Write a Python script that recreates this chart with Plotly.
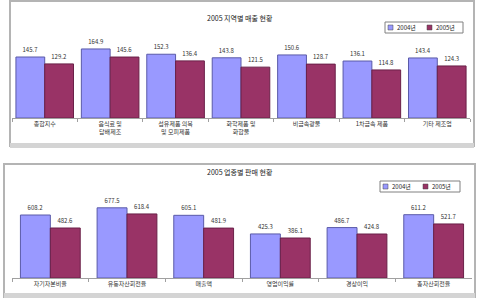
import plotly.graph_objects as go

# ---- data ----
top_title = "2005 지역별 매출 현황"
top_categories = ["종합지수", "음식료 및<br>담배제조", "섬유제품 의복<br>및 모피제품", "화학제품 및<br>화합물", "비금속광물", "1차금속 제품", "기타 제조업"]
top_2004 = [145.7, 164.9, 152.3, 143.8, 150.6, 136.1, 143.4]
top_2005 = [129.2, 145.6, 136.4, 121.5, 128.7, 114.8, 124.3]

bot_title = "2005 업종별 판매 현황"
bot_categories = ["자기자본비율", "유동자산회전율", "매출액", "영업이익률", "경상이익", "총자산회전율"]
bot_2004 = [608.2, 677.5, 605.1, 425.3, 486.7, 611.2]
bot_2005 = [482.6, 618.4, 481.9, 386.1, 424.8, 521.7]

series_names = ["2004년", "2005년"]

# ---- styling ----
W, H = 480, 301
FONT = "Noto Sans CJK KR"
BLUE = "#9999FF"
RED = "#993366"

def px(x):
    return x / W

def py(y):
    return 1 - y / H

fig = go.Figure()

def add_pair(cats, v1, v2, xa, ya, w):
    fig.add_trace(go.Bar(
        x=cats, y=v1, name=series_names[0], xaxis=xa, yaxis=ya, width=w, offset=-w,
        marker=dict(color=BLUE, line=dict(color="#5a5aa8", width=1)),
        text=[f"{v:.1f}" for v in v1], textposition="outside",
        textfont=dict(size=6, color="#333333", family=FONT), cliponaxis=False,
    ))
    fig.add_trace(go.Bar(
        x=cats, y=v2, name=series_names[1], xaxis=xa, yaxis=ya, width=w, offset=0,
        marker=dict(color=RED, line=dict(color="#6a2048", width=1)),
        text=[f"{v:.1f}" for v in v2], textposition="outside",
        textfont=dict(size=6, color="#333333", family=FONT), cliponaxis=False,
    ))

add_pair(top_categories, top_2004, top_2005, "x", "y", 0.44)
add_pair(bot_categories, bot_2004, bot_2005, "x2", "y2", 0.39)

top_scale = 145.7 / 61.0
bot_scale = 608.2 / 63.0

axis_common = dict(
    showgrid=False, zeroline=False, showline=True, linecolor="#a0a0a0", linewidth=1,
    ticks="outside", tickson="boundaries", ticklen=3, tickcolor="#a0a0a0",
    tickfont=dict(size=6, color="#333333", family=FONT), fixedrange=True,
)

shapes = [
    dict(type="rect", xref="paper", yref="paper", x0=px(10), x1=px(474), y0=py(146), y1=py(1),
         line=dict(color="#b4b4b4", width=2), layer="below"),
    dict(type="rect", xref="paper", yref="paper", x0=px(10), x1=px(474), y0=py(148), y1=py(143),
         line=dict(width=0), fillcolor="#d4d4d4", layer="below"),
    dict(type="rect", xref="paper", yref="paper", x0=px(4), x1=px(475), y0=py(297), y1=py(164),
         line=dict(color="#b4b4b4", width=2), layer="below"),
    dict(type="rect", xref="paper", yref="paper", x0=px(4), x1=px(475), y0=py(298), y1=py(293),
         line=dict(width=0), fillcolor="#d4d4d4", layer="below"),
]
annotations = [
    dict(text=top_title, x=0.5, y=py(11), xref="paper", yref="paper", showarrow=False,
         font=dict(size=7, color="#222222", family=FONT)),
    dict(text=bot_title, x=0.5, y=py(172), xref="paper", yref="paper", showarrow=False,
         font=dict(size=7, color="#222222", family=FONT)),
]

def manual_legend(x0, y0, w, h):
    shapes.append(dict(type="rect", xref="paper", yref="paper", x0=px(x0), x1=px(x0 + w),
                       y0=py(y0 + h), y1=py(y0), line=dict(color="#808080", width=1),
                       fillcolor="white"))
    half = w / 2
    for i, (name, col) in enumerate(zip(series_names, [BLUE, RED])):
        sx = x0 + 3 + i * half
        shapes.append(dict(type="rect", xref="paper", yref="paper", x0=px(sx), x1=px(sx + 5),
                           y0=py(y0 + h / 2 + 2.5), y1=py(y0 + h / 2 - 2.5),
                           line=dict(color="#444444", width=0.5), fillcolor=col))
        annotations.append(dict(text=name, x=px(sx + 7), y=py(y0 + h / 2), xref="paper", yref="paper",
                                xanchor="left", yanchor="middle", showarrow=False,
                                font=dict(size=6, color="#222222", family=FONT)))

manual_legend(385, 22, 78, 11)
manual_legend(380, 181, 80, 11)

fig.update_layout(
    width=W, height=H, margin=dict(l=0, r=0, t=0, b=0),
    paper_bgcolor="white", plot_bgcolor="white",
    barmode="overlay", showlegend=False,
    font=dict(family=FONT, size=6, color="#333333"),
    xaxis=dict(domain=[px(12), px(470)], anchor="y", **axis_common),
    yaxis=dict(domain=[py(118), py(25)], range=[0, 93 * top_scale], visible=False, anchor="x"),
    xaxis2=dict(domain=[px(12), px(472)], anchor="y2", **axis_common),
    yaxis2=dict(domain=[py(278), py(185)], range=[0, 93 * bot_scale], visible=False, anchor="x2"),
    annotations=annotations,
    shapes=shapes,
)

fig.write_html("out.html")
